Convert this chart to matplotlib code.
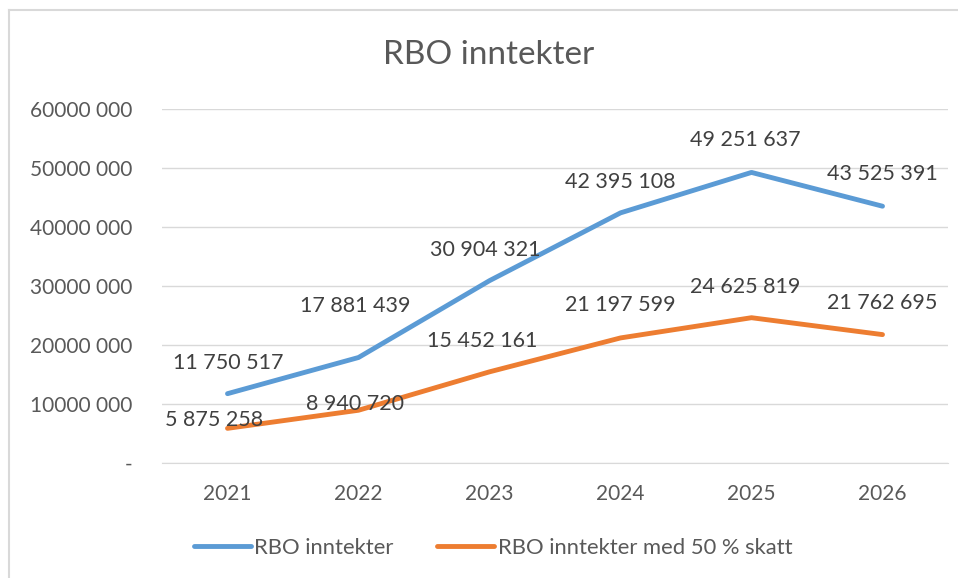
import matplotlib
matplotlib.use("Agg")
import matplotlib.pyplot as plt
from matplotlib.lines import Line2D
from matplotlib.ticker import FuncFormatter

plt.rcParams['font.family'] = ['Lato', 'DejaVu Sans']

years = ["2021", "2022", "2023", "2024", "2025", "2026"]
rbo = [11750517, 17881439, 30904321, 42395108, 49251637, 43525391]
rbo_skatt = [5875258, 8940720, 15452161, 21197599, 24625819, 21762695]
names = ["RBO inntekter", "RBO inntekter med 50 % skatt"]

# label offsets in pixels (dx, dy)
off_blue = [(1, 31), (-3, 51), (-4, 31), (0, 31), (-6, 32), (0, 32)]
off_orange = [(-13, 8), (-3, 6), (-7, 31), (0, 33), (-6, 31), (0, 32)]

txt = "#595959"
blue = "#5B9BD5"
orange = "#ED7D31"


def fmt_num(v):
    return f"{int(v):,}".replace(",", " ")


def fmt_tick(v, pos):
    if v == 0:
        return "-"
    s = f"{int(v):,}".split(",")
    return "".join(s[:-1]) + " " + s[-1]


fig = plt.figure(figsize=(9.58, 5.78), dpi=100)
ax = fig.add_axes([162 / 958, 1 - 463 / 578, 786 / 958, 354 / 578])

x = range(len(years))
ax.plot(x, rbo, color=blue, lw=3.5, solid_capstyle="round", label=names[0])
ax.plot(x, rbo_skatt, color=orange, lw=3.5, solid_capstyle="round", label=names[1])

for i, v in enumerate(rbo):
    ax.annotate(fmt_num(v), (i, v), xytext=off_blue[i], textcoords="offset pixels",
                ha="center", va="center", fontsize=15.5, color="#404040")
for i, v in enumerate(rbo_skatt):
    ax.annotate(fmt_num(v), (i, v), xytext=off_orange[i], textcoords="offset pixels",
                ha="center", va="center", fontsize=15.5, color="#404040")

ax.set_xlim(-0.5, len(years) - 0.5)
ax.set_ylim(0, 60000000)
ax.set_yticks(range(0, 60000001, 10000000))
ax.yaxis.set_major_formatter(FuncFormatter(fmt_tick))
ax.set_xticks(list(x))
ax.set_xticklabels(years)
ax.tick_params(length=0, labelsize=15, colors=txt)
ax.tick_params(axis="y", pad=21)
ax.tick_params(axis="x", pad=15)
ax.grid(axis="y", color="#D9D9D9", lw=1)
ax.set_axisbelow(True)
for s in ["top", "right", "left"]:
    ax.spines[s].set_visible(False)
ax.spines["bottom"].set_color("#D9D9D9")

fig.text(489 / 958, 1 - 55 / 578, "RBO inntekter", ha="center", va="center",
         fontsize=24, color=txt)

leg = fig.legend(loc="center", bbox_to_anchor=(493 / 958, 1 - 548 / 578), ncol=2,
                 frameon=False, fontsize=15.8, handlelength=2.6, handletextpad=0.15,
                 columnspacing=2.0)
for t in leg.get_texts():
    t.set_color(txt)

fig.add_artist(Line2D([8.5 / 958, 1], [1 - 10 / 578, 1 - 10 / 578], color="#D9D9D9", lw=1.5))
fig.add_artist(Line2D([8.5 / 958, 8.5 / 958], [0, 1 - 10 / 578], color="#D9D9D9", lw=1.5))

fig.savefig("out.png", dpi=100)
